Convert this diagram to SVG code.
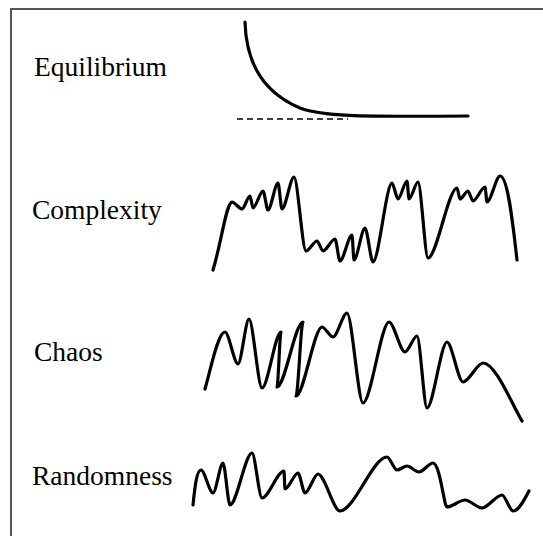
<svg xmlns="http://www.w3.org/2000/svg" width="543" height="536" viewBox="0 0 543 536">
<style>
.lbl{font-family:"Liberation Serif","Times New Roman",serif;font-size:27.5px;fill:#000}
.curve{fill:none;stroke:#000;stroke-width:3.2;stroke-linecap:round;stroke-linejoin:round}
.frame{fill:none;stroke:#555;stroke-width:2}
</style>
<rect width="543" height="536" fill="#fff"/>
<path class="frame" d="M11,537 V9 H544"/>
<g id="equilibrium">
<text class="lbl" x="34" y="76">Equilibrium</text>
<path class="curve" d="M245,22 C246,62 262,92 300,108 C322,116 352,117 468,116"/>
<line x1="237" y1="119" x2="348" y2="119" stroke="#000" stroke-width="1.5" stroke-dasharray="6,4"/>
</g>
<g id="complexity">
<text class="lbl" x="32" y="219">Complexity</text>
<path class="curve" d="M213,270 C222,240 226,204 232,202 C235,202 239,209 242,209 C244.4,209 247.6,196 250,196 C250.9,196 252.1,208 253,208 C256,208 260,191 263,191 C264.5,191 266.5,210 268,210 C271,210 275,183 278,183 C279.2,183 280.8,209 282,209 C285.6,209 290.4,177 294,177 C297.6,177 302.4,251 306,251 C309.3,251 313.7,241 317,241 C318.8,241 321.2,251 323,251 C326.6,251 331.4,239 335,239 C336.5,239 338.5,261 340,261 C343.6,261 348.4,235 352,235 C352.6,235 353.4,260 354,260 C357.3,260 361.7,228 365,228 C367.4,228 370.6,262 373,262 C378.7,262 386.3,183 392,183 C393.8,183 396.2,199 398,199 C400.7,199 404.3,181 407,181 C407.6,181 408.4,199 409,199 C411.7,199 415.3,182 418,182 C421,182 425,258 428,258 C436.7,258 448.3,188 457,188 C457.9,188 459.1,199 460,199 C462.4,199 465.6,191 468,191 C469.5,191 471.5,201 473,201 C476.6,201 481.4,187 485,187 C485.6,187 486.4,202 487,202 C490.9,202 496.1,176 500,176 C508,176 513,225 517,260"/>
</g>
<g id="chaos">
<text class="lbl" x="34" y="361">Chaos</text>
<path class="curve" d="M205,389 C211,368 218,332 225,332 C228.9,332 234.1,364 238,364 C241.3,364 245.7,319 249,319 C252.9,319 258.1,388 262,388 C267.7,388 275.3,332 281,332 C279.8,332 278.2,387 277,387 C284.8,387 295.2,322 303,322 C300.9,322 298.1,396 296,396 C303.8,396 314.2,327 322,327 C325.3,327 329.7,337 333,337 C337.2,337 342.8,313 347,313 C351.8,313 358.2,403 363,403 C370.8,403 381.2,322 389,322 C393.8,322 400.2,352 405,352 C408.6,352 413.4,336 417,336 C420,336 424,408 427,408 C433,408 441,342 447,342 C451.8,342 458.2,382 463,382 C469,382 477,363 483,363 C495,363 510,400 522,421"/>
</g>
<g id="randomness">
<text class="lbl" x="32" y="485">Randomness</text>
<path class="curve" d="M193,505 C195,485 197,470 201,470 C204.6,470 209.4,493 213,493 C216,493 220,463 223,463 C225.1,463 227.9,505 230,505 C236.6,505 245.4,453 252,453 C255,453 259,498 262,498 C268.6,498 277.4,471 284,471 C284.3,471 284.7,489 285,489 C288.9,489 294.1,473 298,473 C300.1,473 302.9,493 305,493 C308.9,493 314.1,474 318,474 C324.6,474 333.4,511 340,511 C354.1,511 372.9,457 387,457 C390,457 394,470 397,470 C400,470 404,466 407,466 C410.6,466 415.4,472 419,472 C423.2,472 428.8,463 433,463 C440,463 444,507 447,507 C452.4,507 459.6,500 465,500 C470.1,500 476.9,508 482,508 C488,508 496,495 502,495 C505.3,495 509.7,511 513,511 C519,511 524,500 529,491"/>
</g>
</svg>
